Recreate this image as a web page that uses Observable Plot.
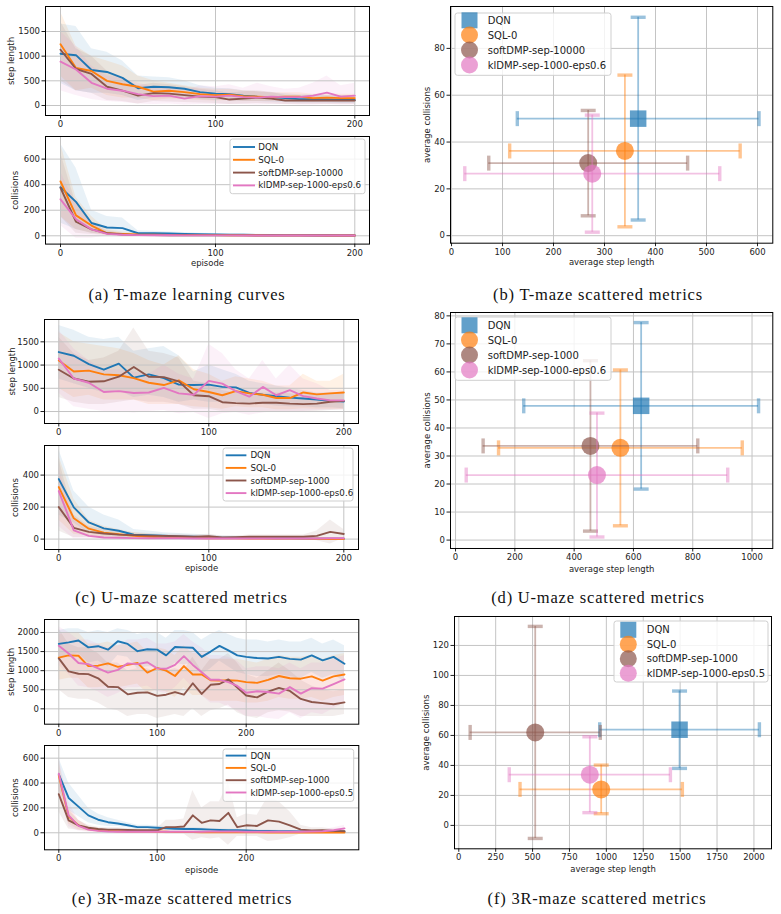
<!DOCTYPE html>
<html>
<head>
<meta charset="utf-8">
<script src="https://cdn.jsdelivr.net/npm/d3@7"></script>
<script src="https://cdn.jsdelivr.net/npm/@observablehq/plot@0.6"></script>
<style>
  body { margin: 0; background: #fff; }
  #page { position: relative; width: 781px; height: 914px; overflow: hidden; font-family: "DejaVu Sans", sans-serif; }
  .panel { position: absolute; }
  .caption { position: absolute; font-family: "Liberation Serif", serif; font-size: 16.5px; letter-spacing: 0.8px; color: #111; transform: translate(-50%, -50%); white-space: nowrap; }
</style>
</head>
<body>
<div id="page"></div>
<script>
// ---------- shared ----------
const COLORS = ["#1f77b4", "#ff7f0e", "#8c564b", "#e377c2"];
const NAMES_T = ["DQN", "SQL-0", "softDMP-sep-10000", "klDMP-sep-1000-eps0.6"];
const NAMES_U = ["DQN", "SQL-0", "softDMP-sep-1000", "klDMP-sep-1000-eps0.6"];
const NAMES_R = ["DQN", "SQL-0", "softDMP-sep-1000", "klDMP-sep-1000-eps0.5"];

const EP21 = [0,10,20,30,40,50,60,70,80,90,100,110,120,130,140,150,160,170,180,190,200];
const EP30 = [0,10,20,30,40,50,60,70,80,90,100,110,120,130,140,150,160,170,180,190,200,210,220,230,240,250,260,270,280,290];

// ---------- T-maze learning curves ----------
const tStepDQN  = [1050,1020,720,680,560,350,380,370,340,270,240,230,200,180,170,150,130,130,120,110,110];
const tStepSQL  = [1240,760,700,500,430,380,280,300,270,230,210,220,190,180,170,180,180,150,160,150,150];
const tStepSoft = [1130,740,640,380,300,200,250,240,210,180,170,120,140,160,140,100,100,100,100,100,100];
const tStepKL   = [890,730,460,340,300,230,190,200,140,190,180,200,170,160,180,170,170,200,260,180,200];
const tStepDQNHi  = [1650,1600,1150,1080,900,600,580,560,500,400,350,340,300,280,260,240,220,220,200,200,200];
const tStepDQNLo  = [450,300,250,250,200,100,150,150,150,120,100,100,80,80,70,60,50,50,50,40,40];
const tStepSQLHi  = [1900,1200,1000,900,800,600,500,450,400,350,330,330,300,280,260,260,260,230,240,230,230];
const tStepSQLLo  = [600,300,350,200,150,150,100,130,120,100,90,100,80,80,80,90,90,70,80,70,70];
const tStepSoftHi = [1700,1150,1000,700,550,400,450,420,380,330,300,250,280,300,270,200,200,200,190,190,190];
const tStepSoftLo = [500,300,250,100,80,30,80,70,60,50,40,20,30,40,30,20,20,20,20,20,20];
const tStepKLHi   = [1500,1200,800,600,550,450,380,380,300,400,380,420,350,450,380,330,350,450,600,400,450];
const tStepKLLo   = [300,200,120,80,60,30,20,30,10,20,20,20,20,10,20,20,10,10,20,10,10];

const tColDQN  = [380,265,100,65,60,20,20,18,15,12,10,9,8,7,6,5,5,4,4,3,3];
const tColSQL  = [425,160,80,20,15,10,8,7,6,5,5,4,4,4,3,3,3,3,2,2,2];
const tColSoft = [375,110,50,20,10,5,5,4,4,3,3,3,3,2,2,2,2,2,2,2,2];
const tColKL   = [285,130,50,15,8,5,4,4,3,3,3,3,2,2,2,2,2,2,2,2,2];
const tColDQNHi  = [720,530,200,150,140,40,35,30,25,20,18,16,14,12,11,10,9,8,8,7,6];
const tColDQNLo  = [100,50,20,10,10,5,5,5,4,3,3,2,2,2,2,1,1,1,1,0,0];
const tColSQLHi  = [720,300,150,50,30,20,16,14,12,10,10,8,8,8,6,6,6,6,5,5,5];
const tColSQLLo  = [150,50,20,5,3,2,2,2,1,1,1,1,1,1,0,0,0,0,0,0,0];
const tColSoftHi = [650,250,100,40,20,10,10,8,8,6,6,6,6,5,5,5,5,5,5,5,5];
const tColSoftLo = [150,20,10,3,2,1,1,1,1,0,0,0,0,0,0,0,0,0,0,0,0];
const tColKLHi   = [500,250,100,30,16,10,8,8,6,6,6,6,5,5,5,5,5,5,5,5,5];
const tColKLLo   = [80,-20,-20,0,0,0,0,0,0,0,0,0,0,0,0,0,0,0,0,0,0];

// ---------- U-maze learning curves ----------
const uStepDQN  = [1280,1200,1020,900,1030,730,800,720,580,570,580,530,520,400,360,330,300,280,260,230,215];
const uStepSQL  = [1100,860,880,800,780,720,620,570,670,480,420,350,440,390,360,290,290,410,370,390,410];
const uStepSoft = [900,710,640,650,750,960,750,740,650,350,330,200,180,170,190,190,170,160,170,210,230];
const uStepKL   = [1140,710,620,420,440,400,410,510,390,360,660,600,440,320,530,350,460,330,280,240,240];
const uStepDQNHi  = [1850,1750,1600,1550,1600,1300,1350,1400,1200,850,1000,900,800,650,600,550,500,450,400,400,380];
const uStepDQNLo  = [700,600,500,400,450,300,350,300,200,250,200,200,200,150,150,120,100,100,80,80,60];
const uStepSQLHi  = [1700,1500,1450,1400,1350,1250,1100,1000,1200,900,800,650,750,700,650,550,550,800,650,650,800];
const uStepSQLLo  = [500,300,350,250,250,250,150,150,150,100,80,50,100,80,80,40,40,60,50,50,50];
const uStepSoftHi = [1600,1250,1100,1150,1300,1800,1300,1250,1150,650,600,450,400,380,400,400,380,350,380,400,420];
const uStepSoftLo = [300,200,150,150,200,250,200,200,150,50,50,0,0,0,0,0,0,0,0,20,40];
const uStepKLHi   = [1750,1350,1100,900,900,850,800,1000,800,700,1450,1250,900,700,1100,700,1000,700,600,450,450];
const uStepKLLo   = [400,100,50,0,0,-30,0,20,-50,-20,-150,-50,-20,-80,-30,0,-20,0,20,30,30];

const uColDQN  = [375,198,104,67,52,27,25,21,17,15,10,9,8,7,6,5,5,4,3,3,2];
const uColSQL  = [325,130,65,40,30,20,15,10,8,6,5,5,5,4,4,3,3,3,2,1,0];
const uColSoft = [200,70,45,35,28,25,22,20,18,15,18,10,12,15,15,15,15,15,20,45,32];
const uColKL   = [300,55,20,10,8,6,5,5,5,4,4,4,4,4,4,4,4,4,4,5,5];
const uColDQNHi  = [560,300,200,150,120,60,50,40,35,30,25,20,18,16,15,14,12,10,10,10,8];
const uColDQNLo  = [150,100,40,20,15,5,5,4,3,3,2,2,2,1,1,1,1,0,0,0,0];
const uColSQLHi  = [520,250,120,80,60,40,30,20,15,12,10,10,10,8,8,6,6,6,5,4,3];
const uColSQLLo  = [120,30,20,10,5,4,3,2,2,1,1,1,1,1,1,0,0,0,0,0,-2];
const uColSoftHi = [500,150,80,60,50,40,35,30,30,25,30,20,20,25,25,25,25,25,50,120,60];
const uColSoftLo = [50,10,10,10,10,10,10,10,5,5,5,0,5,5,5,5,5,5,-10,-30,5];
const uColKLHi   = [450,120,40,20,15,12,10,10,10,8,8,8,8,8,8,8,8,8,8,10,10];
const uColKLLo   = [80,0,0,0,1,1,1,1,1,1,1,1,1,1,1,1,1,1,1,1,1];

// ---------- 3R-maze learning curves ----------
const rStepDQN  = [1700,1740,1790,1610,1640,1550,1770,1700,1510,1560,1550,1400,1620,1610,1600,1360,1500,1650,1530,1400,1360,1330,1320,1360,1310,1290,1400,1270,1360,1180];
const rStepSQL  = [1340,1400,1390,1120,1130,1190,1100,1150,1200,950,1070,1000,860,1120,900,900,750,740,750,740,700,680,760,860,800,790,850,740,850,900];
const rStepSoft = [1320,980,920,910,800,580,570,380,420,430,340,370,440,370,670,390,630,650,770,560,350,300,450,550,470,260,180,150,120,170];
const rStepKL   = [1650,1450,1200,1170,1060,950,1020,1190,1170,1220,1060,1050,1150,1380,1150,960,760,760,700,600,420,460,440,400,570,400,540,530,650,770];
const rStepDQNHi  = [2050,2100,2100,2000,2050,2000,2100,2050,1950,2000,2000,1850,2050,2050,2000,1800,1950,2050,1950,1850,1800,1800,1750,1800,1750,1750,1850,1700,1800,1650];
const rStepDQNLo  = [1350,1380,1450,1200,1250,1100,1400,1350,1050,1100,1100,950,1200,1150,1200,900,1050,1250,1100,950,900,850,850,900,850,800,950,800,900,700];
const rStepSQLHi  = [1950,2000,2000,1700,1700,1750,1650,1700,1750,1500,1600,1550,1400,1650,1450,1450,1300,1300,1300,1300,1250,1200,1300,1400,1350,1350,1400,1300,1400,1450];
const rStepSQLLo  = [750,800,800,550,550,600,550,600,650,400,500,450,300,550,350,350,200,200,200,200,150,150,200,300,250,250,300,200,300,350];
const rStepSoftHi = [2100,1700,1600,1600,1450,1200,1200,1000,1050,1050,950,1000,1050,1000,1350,1000,1300,1300,1450,1200,900,800,1000,1200,1000,750,600,500,450,500];
const rStepSoftLo = [500,300,250,250,150,0,-50,-200,-150,-150,-250,-200,-150,-200,0,-200,-50,0,100,-100,-200,-250,-100,-50,-80,-200,-200,-200,-200,-150];
const rStepKLHi   = [2150,2000,1800,1800,1700,1600,1650,1800,1800,1850,1700,1700,1750,1950,1750,1600,1400,1400,1350,1250,1050,1100,1100,1050,1200,1050,1200,1200,1300,1400];
const rStepKLLo   = [1150,900,600,550,450,300,400,550,550,600,450,400,550,800,550,350,150,150,50,-50,-200,-200,-250,-280,-100,-250,-100,-150,0,150];

const rColDQN  = [470,280,210,140,105,85,75,60,45,45,40,35,32,30,30,28,25,22,20,20,18,15,15,12,12,10,10,10,10,10];
const rColSQL  = [460,130,60,30,20,15,12,10,10,10,8,8,5,5,5,3,3,3,3,3,3,3,2,2,2,2,2,2,2,2];
const rColSoft = [310,100,60,40,30,25,25,22,20,20,20,45,45,50,140,80,100,95,160,45,60,55,100,90,60,25,18,20,15,12];
const rColKL   = [475,140,55,25,15,10,8,8,8,8,8,8,8,8,8,8,10,10,10,10,8,8,8,8,8,8,10,12,20,35];
const rColDQNHi  = [600,400,300,200,150,120,100,80,60,60,55,50,45,40,40,38,35,30,28,28,25,22,22,20,18,16,16,16,16,16];
const rColDQNLo  = [350,180,130,80,60,50,50,40,30,30,28,22,20,20,20,18,15,14,12,12,10,8,8,6,6,5,5,5,5,5];
const rColSQLHi  = [580,200,100,50,35,25,20,15,15,15,12,12,8,8,8,5,5,5,5,5,5,5,4,4,4,4,4,4,4,4];
const rColSQLLo  = [330,70,25,10,5,5,4,4,4,4,3,3,2,2,2,1,1,1,1,1,1,1,0,0,0,0,0,0,0,0];
const rColSoftHi = [450,180,100,60,45,40,40,35,35,35,35,100,100,110,340,200,250,250,400,120,150,140,290,250,170,60,40,40,30,30];
const rColSoftLo = [170,30,20,15,12,10,10,8,5,5,5,-10,-10,-10,-60,-40,-50,-40,-100,-30,-30,-30,-70,-60,-40,-10,-5,0,0,-5];
const rColKLHi   = [600,250,100,50,30,20,15,15,15,15,15,15,15,15,15,15,20,20,20,20,15,15,15,15,15,15,20,25,40,60];
const rColKLLo   = [350,50,15,5,3,2,2,2,2,2,2,2,2,2,2,2,3,3,3,3,2,2,2,2,2,2,3,3,5,10];

// ---------- scattered metrics (mean and standard deviation per method) ----------
const tAvgSteps = [366, 340, 268, 276];
const tSdSteps  = [237, 226, 195, 250];
const tAvgCol   = [50, 36.2, 31, 26.5];
const tSdCol    = [43.3, 32.4, 22.5, 25];

const uAvgSteps = [626, 556, 455, 477];
const uSdSteps  = [396, 411, 362, 441];
const uAvgCol   = [47.9, 32.9, 33.6, 23.2];
const uSdCol    = [29.7, 27.8, 30.4, 22.1];

const rAvgSteps = [1496, 965, 518, 888];
const rSdSteps  = [541, 550, 441, 546];
const rAvgCol   = [63.8, 24, 62, 33.8];
const rSdCol    = [25.8, 16.2, 70.7, 25.3];

// ---------- helpers ----------
const page = document.getElementById("page");
const FONT = "DejaVu Sans";
const TEXT = "#222";
const GRID = "#c4c4c4";

function mount(node, left, top) {
  const d = document.createElement("div");
  d.className = "panel";
  d.style.left = left + "px";
  d.style.top = top + "px";
  d.appendChild(node);
  page.appendChild(d);
}

function geometry(frame, ml, mr, mt, mb) {
  const [x0, y0, x1, y1] = frame;
  return { left: x0 - ml, top: y0 - mt, width: x1 - x0 + ml + mr, height: y1 - y0 + mt + mb, ml, mr, mt, mb, x0, y0, x1, y1 };
}

function axesMarks(o, g) {
  const marks = [
    Plot.axisX(o.xTicks, { tickSize: 3.5, tickPadding: 2, tickFormat: d => String(d), label: null, fontSize: 8.5 }),
    Plot.axisY(o.yTicks, { tickSize: 3.5, tickPadding: 2, tickFormat: d => String(d), label: null, fontSize: 8.5 }),
    Plot.frame({ stroke: "#000", strokeWidth: 1 }),
    Plot.text([o.ylabel], { frameAnchor: "left", dx: o.ylabelX - g.x0, rotate: -90, textAnchor: "middle", lineAnchor: "middle", fontSize: 8.5, fill: TEXT })
  ];
  if (o.xlabel) marks.push(Plot.text([o.xlabel], { frameAnchor: "bottom", dy: o.xlabelY - g.y1, lineAnchor: "middle", fontSize: 8.5, fill: TEXT }));
  return marks;
}

function curvePanel(o) {
  const g = geometry(o.frame, 46, 16, 6, 32);
  const marks = [];
  o.series.forEach((s, k) => {
    const rows = o.episodes.map((e, i) => ({ e, lo: s.lo[i], hi: s.hi[i] }));
    marks.push(Plot.areaY(rows, { x: "e", y1: "lo", y2: "hi", fill: COLORS[k], fillOpacity: 0.1 }));
  });
  marks.push(Plot.gridX(o.xTicks, { stroke: GRID, strokeOpacity: 1, strokeWidth: 1 }));
  marks.push(Plot.gridY(o.yTicks, { stroke: GRID, strokeOpacity: 1, strokeWidth: 1 }));
  o.series.forEach((s, k) => {
    marks.push(Plot.lineY(s.mean, { x: (d, i) => o.episodes[i], y: d => d, stroke: COLORS[k], strokeWidth: 1.9, strokeLinejoin: "round" }));
  });
  marks.push(...axesMarks(o, g));
  const chart = Plot.plot({
    width: g.width, height: g.height,
    marginLeft: g.ml, marginRight: g.mr, marginTop: g.mt, marginBottom: g.mb,
    x: { type: "linear", domain: o.xDomain, range: o.xPage.map(p => p - g.left) },
    y: { domain: o.yDomain },
    style: { fontFamily: FONT, fontSize: "8.5px", color: TEXT, background: "transparent", overflow: "visible" },
    marks
  });
  mount(chart, g.left, g.top);
}

// short cap bars for error bars (fixed pixel size)
const hCap = { draw(ctx) { ctx.moveTo(-7.5, -1.7); ctx.lineTo(7.5, -1.7); ctx.lineTo(7.5, 1.7); ctx.lineTo(-7.5, 1.7); ctx.closePath(); } };
const vCap = { draw(ctx) { ctx.moveTo(-1.7, -7.5); ctx.lineTo(1.7, -7.5); ctx.lineTo(1.7, 7.5); ctx.lineTo(-1.7, 7.5); ctx.closePath(); } };

function scatterPanel(o) {
  const g = geometry(o.frame, 60, 8, 6, 32);
  const marks = [
    Plot.gridX(o.xTicks, { stroke: GRID, strokeOpacity: 1, strokeWidth: 1 }),
    Plot.gridY(o.yTicks, { stroke: GRID, strokeOpacity: 1, strokeWidth: 1 })
  ];
  [0, 1, 2, 3].forEach(k => {
    const mx = o.steps[k], sx = o.stepsSd[k], my = o.col[k], sy = o.colSd[k];
    const c = COLORS[k];
    marks.push(
      Plot.ruleY([k], { y: () => my, x1: () => mx - sx, x2: () => mx + sx, stroke: c, strokeOpacity: 0.45, strokeWidth: 1.8 }),
      Plot.ruleX([k], { x: () => mx, y1: () => my - sy, y2: () => my + sy, stroke: c, strokeOpacity: 0.45, strokeWidth: 1.8 }),
      Plot.dot([mx - sx, mx + sx], { x: d => d, y: () => my, symbol: vCap, r: 1, fill: c, fillOpacity: 0.45, stroke: "none" }),
      Plot.dot([my - sy, my + sy], { x: () => mx, y: d => d, symbol: hCap, r: 1, fill: c, fillOpacity: 0.45, stroke: "none" }),
      Plot.dot([k], { x: () => mx, y: () => my, symbol: k === 0 ? "square" : "circle", r: k === 0 ? 9.3 : 9, fill: c, fillOpacity: 0.7, stroke: "none" })
    );
  });
  marks.push(...axesMarks(o, g));
  const chart = Plot.plot({
    width: g.width, height: g.height,
    marginLeft: g.ml, marginRight: g.mr, marginTop: g.mt, marginBottom: g.mb,
    x: { domain: o.xDomain },
    y: { domain: o.yDomain },
    style: { fontFamily: FONT, fontSize: "8.5px", color: TEXT, background: "transparent", overflow: "visible" },
    marks
  });
  mount(chart, g.left, g.top);
}

function legend(o) {
  const svg = d3.create("svg")
    .attr("width", o.w + 2).attr("height", o.h + 2)
    .style("position", "absolute").style("left", (o.x - 1) + "px").style("top", (o.y - 1) + "px")
    .style("overflow", "visible")
    .style("font-family", FONT).style("font-size", o.fontSize + "px");
  svg.append("rect").attr("x", 1).attr("y", 1).attr("width", o.w).attr("height", o.h).attr("rx", 2.5)
    .attr("fill", "#fff").attr("fill-opacity", 0.8).attr("stroke", "#cfcfcf").attr("stroke-width", 1);
  o.names.forEach((name, k) => {
    const cy = o.rowY[k] - o.y + 1;
    if (o.kind === "line") {
      svg.append("line").attr("x1", o.lineX[0] - o.x + 1).attr("x2", o.lineX[1] - o.x + 1)
        .attr("y1", cy).attr("y2", cy).attr("stroke", COLORS[k]).attr("stroke-width", 1.9);
    } else {
      const cx = o.markX - o.x + 1;
      if (k === 0) {
        svg.append("rect").attr("x", cx - 8).attr("y", cy - 8).attr("width", 16).attr("height", 16)
          .attr("fill", COLORS[k]).attr("fill-opacity", 0.7);
      } else {
        svg.append("circle").attr("cx", cx).attr("cy", cy).attr("r", 8.5)
          .attr("fill", COLORS[k]).attr("fill-opacity", 0.7);
      }
    }
    svg.append("text").attr("x", o.textX - o.x + 1).attr("y", cy).attr("dy", "0.35em")
      .attr("fill", TEXT).text(name);
  });
  page.appendChild(svg.node());
}

function caption(text, cx, cy) {
  const d = document.createElement("div");
  d.className = "caption";
  d.style.left = cx + "px";
  d.style.top = cy + "px";
  d.textContent = text;
  page.appendChild(d);
}

const S = (mean, lo, hi) => ({ mean, lo, hi });

// ---------- (a) T-maze learning curves ----------
curvePanel({
  frame: [45, 6, 369, 115], xDomain: [0, 100, 200], xPage: [60, 215, 354.3], xTicks: [0, 100, 200],
  yDomain: [-203, 2007], yTicks: [0, 500, 1000, 1500], episodes: EP21,
  ylabel: "step length", ylabelX: 11,
  series: [S(tStepDQN, tStepDQNLo, tStepDQNHi), S(tStepSQL, tStepSQLLo, tStepSQLHi), S(tStepSoft, tStepSoftLo, tStepSoftHi), S(tStepKL, tStepKLLo, tStepKLHi)]
});
curvePanel({
  frame: [45, 135.7, 369, 243.3], xDomain: [0, 100, 200], xPage: [60, 215, 354.3], xTicks: [0, 100, 200],
  yDomain: [-65, 777], yTicks: [0, 200, 400, 600], episodes: EP21,
  ylabel: "collisions", ylabelX: 15, xlabel: "episode", xlabelY: 262.7,
  series: [S(tColDQN, tColDQNLo, tColDQNHi), S(tColSQL, tColSQLLo, tColSQLHi), S(tColSoft, tColSoftLo, tColSoftHi), S(tColKL, tColKLLo, tColKLHi)]
});
legend({ kind: "line", x: 230, y: 139.3, w: 135, h: 54.7, names: NAMES_T, rowY: [147.3, 160.1, 172.9, 185.7], lineX: [233, 255], textX: 258.3, fontSize: 8.7 });

// ---------- (b) T-maze scattered metrics ----------
scatterPanel({
  frame: [450, 6, 772.3, 242.7], xDomain: [-2, 630], yDomain: [-3.2, 97.9],
  xTicks: [0, 100, 200, 300, 400, 500, 600], yTicks: [0, 20, 40, 60, 80],
  ylabel: "average collisions", ylabelX: 426.7, xlabel: "average step length", xlabelY: 262,
  steps: tAvgSteps, stepsSd: tSdSteps, col: tAvgCol, colSd: tSdCol
});
legend({ kind: "marker", x: 455, y: 12.7, w: 156, h: 62.3, names: NAMES_T, rowY: [20, 34.8, 49.8, 64.8], markX: 469.5, textX: 487.7, fontSize: 10 });

// ---------- (c) U-maze ----------
curvePanel({
  frame: [44, 319.3, 358, 423.3], xDomain: [0, 100, 200], xPage: [58.3, 208.3, 343.3], xTicks: [0, 100, 200],
  yDomain: [-258, 1981], yTicks: [0, 500, 1000, 1500], episodes: EP21,
  ylabel: "step length", ylabelX: 11.5,
  series: [S(uStepDQN, uStepDQNLo, uStepDQNHi), S(uStepSQL, uStepSQLLo, uStepSQLHi), S(uStepSoft, uStepSoftLo, uStepSoftHi), S(uStepKL, uStepKLLo, uStepKLHi)]
});
curvePanel({
  frame: [44, 444.7, 358, 548.7], xDomain: [0, 100, 200], xPage: [58.3, 208.3, 343.3], xTicks: [0, 100, 200],
  yDomain: [-65, 585], yTicks: [0, 200, 400], episodes: EP21,
  ylabel: "collisions", ylabelX: 15, xlabel: "episode", xlabelY: 567.7,
  series: [S(uColDQN, uColDQNLo, uColDQNHi), S(uColSQL, uColSQLLo, uColSQLHi), S(uColSoft, uColSoftLo, uColSoftHi), S(uColKL, uColKLLo, uColKLHi)]
});
legend({ kind: "line", x: 223.3, y: 447.7, w: 130, h: 53, names: NAMES_U, rowY: [455, 467.6, 480.2, 492.8], lineX: [226, 246.7], textX: 250.7, fontSize: 8.7 });

// ---------- (d) U-maze scattered metrics ----------
scatterPanel({
  frame: [450, 311.7, 772.3, 547.7], xDomain: [-17, 1070], yDomain: [-3, 81.2],
  xTicks: [0, 200, 400, 600, 800, 1000], yTicks: [0, 10, 20, 30, 40, 50, 60, 70, 80],
  ylabel: "average collisions", ylabelX: 426.7, xlabel: "average step length", xlabelY: 568.3,
  steps: uAvgSteps, stepsSd: uSdSteps, col: uAvgCol, colSd: uSdCol
});
legend({ kind: "marker", x: 455, y: 316.7, w: 156, h: 63.3, names: NAMES_U, rowY: [325, 339.8, 354.8, 369.8], markX: 469.5, textX: 487.7, fontSize: 10 });

// ---------- (e) 3R-maze ----------
curvePanel({
  frame: [44, 619.3, 358.3, 724], xDomain: [0, 100, 200, 290], xPage: [58.3, 156.7, 245.7, 344], xTicks: [0, 100, 200],
  yDomain: [-402, 2340], yTicks: [0, 500, 1000, 1500, 2000], episodes: EP30,
  ylabel: "step length", ylabelX: 11,
  series: [S(rStepDQN, rStepDQNLo, rStepDQNHi), S(rStepSQL, rStepSQLLo, rStepSQLHi), S(rStepSoft, rStepSoftLo, rStepSoftHi), S(rStepKL, rStepKLLo, rStepKLHi)]
});
curvePanel({
  frame: [44, 745, 358.3, 849.3], xDomain: [0, 100, 200, 290], xPage: [58.3, 156.7, 245.7, 344], xTicks: [0, 100, 200],
  yDomain: [-137, 702], yTicks: [0, 200, 400, 600], episodes: EP30,
  ylabel: "collisions", ylabelX: 15, xlabel: "episode", xlabelY: 869.3,
  series: [S(rColDQN, rColDQNLo, rColDQNHi), S(rColSQL, rColSQLLo, rColSQLHi), S(rColSoft, rColSoftLo, rColSoftHi), S(rColKL, rColKLLo, rColKLHi)]
});
legend({ kind: "line", x: 223.3, y: 749.3, w: 130.7, h: 52.4, names: NAMES_R, rowY: [755.9, 768.2, 780.5, 792.8], lineX: [226, 246.7], textX: 250.7, fontSize: 8.7 });

// ---------- (f) 3R-maze scattered metrics ----------
scatterPanel({
  frame: [454, 616, 771, 848.3], xDomain: [-29, 2119], yDomain: [-15.6, 139.3],
  xTicks: [0, 250, 500, 750, 1000, 1250, 1500, 1750, 2000], yTicks: [0, 20, 40, 60, 80, 100, 120],
  ylabel: "average collisions", ylabelX: 426, xlabel: "average step length", xlabelY: 868.3,
  steps: rAvgSteps, stepsSd: rSdSteps, col: rAvgCol, colSd: rSdCol
});
legend({ kind: "marker", x: 614, y: 620.7, w: 154, h: 61, names: NAMES_R, rowY: [629.5, 644, 658.5, 673], markX: 628.3, textX: 646.7, fontSize: 10 });

// ---------- captions ----------
caption("(a) T-maze learning curves", 187, 295);
caption("(b) T-maze scattered metrics", 598, 295);
caption("(c) U-maze scattered metrics", 181.5, 598);
caption("(d) U-maze scattered metrics", 598, 598);
caption("(e) 3R-maze scattered metrics", 182, 899);
caption("(f) 3R-maze scattered metrics", 597, 899);
</script>
</body>
</html>
